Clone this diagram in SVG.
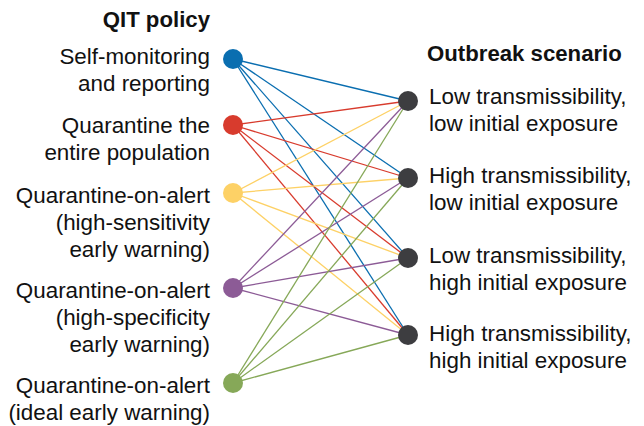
<svg xmlns="http://www.w3.org/2000/svg" width="644" height="426" viewBox="0 0 644 426">
  <style>
    text { font-family: "Liberation Sans", Arial, Helvetica, sans-serif; fill: #111; }
    .lbl { font-size: 22.4px; }
    .hdr { font-size: 22.2px; font-weight: bold; }
    .left { text-anchor: end; }
    .edge { stroke-width: 1.3; fill: none; }
    .b { stroke: #0a6eb0; } .r { stroke: #d83b2d; } .y { stroke: #fdd166; }
    .p { stroke: #8c5b96; } .g { stroke: #86a858; }
    .scen { fill: #3d3d40; }
  </style>
  <rect width="644" height="426" fill="#fff"/>

  <text class="hdr left" x="210" y="27">QIT policy</text>
  <text class="hdr" x="427" y="61">Outbreak scenario</text>

  <!-- connectors: each policy to each scenario -->
  <g id="connectors">
    <g class="edge b">
      <line x1="233" y1="59" x2="408" y2="101"/>
      <line x1="233" y1="59" x2="408" y2="178"/>
      <line x1="233" y1="59" x2="408" y2="258"/>
      <line x1="233" y1="59" x2="408" y2="335"/>
    </g>
    <g class="edge r">
      <line x1="233" y1="125" x2="408" y2="101"/>
      <line x1="233" y1="125" x2="408" y2="178"/>
      <line x1="233" y1="125" x2="408" y2="258"/>
      <line x1="233" y1="125" x2="408" y2="335"/>
    </g>
    <g class="edge y">
      <line x1="233" y1="193" x2="408" y2="101"/>
      <line x1="233" y1="193" x2="408" y2="178"/>
      <line x1="233" y1="193" x2="408" y2="258"/>
      <line x1="233" y1="193" x2="408" y2="335"/>
    </g>
    <g class="edge p">
      <line x1="233" y1="288" x2="408" y2="101"/>
      <line x1="233" y1="288" x2="408" y2="178"/>
      <line x1="233" y1="288" x2="408" y2="258"/>
      <line x1="233" y1="288" x2="408" y2="335"/>
    </g>
    <g class="edge g">
      <line x1="233" y1="383" x2="408" y2="101"/>
      <line x1="233" y1="383" x2="408" y2="178"/>
      <line x1="233" y1="383" x2="408" y2="258"/>
      <line x1="233" y1="383" x2="408" y2="335"/>
    </g>
  </g>

  <!-- policies -->
  <g id="policy-self-monitoring">
    <circle cx="233" cy="59" r="10" fill="#0a6eb0"/>
    <text class="lbl left" x="210" y="64">Self-monitoring</text>
    <text class="lbl left" x="210" y="91">and reporting</text>
  </g>
  <g id="policy-quarantine-all">
    <circle cx="233" cy="125" r="10" fill="#d83b2d"/>
    <text class="lbl left" x="210" y="133">Quarantine the</text>
    <text class="lbl left" x="210" y="160">entire population</text>
  </g>
  <g id="policy-high-sensitivity">
    <circle cx="233" cy="193" r="10" fill="#fdd166"/>
    <text class="lbl left" x="210" y="203">Quarantine-on-alert</text>
    <text class="lbl left" x="210" y="230">(high-sensitivity</text>
    <text class="lbl left" x="210" y="257">early warning)</text>
  </g>
  <g id="policy-high-specificity">
    <circle cx="233" cy="288" r="10" fill="#8c5b96"/>
    <text class="lbl left" x="210" y="298">Quarantine-on-alert</text>
    <text class="lbl left" x="210" y="325">(high-specificity</text>
    <text class="lbl left" x="210" y="352">early warning)</text>
  </g>
  <g id="policy-ideal">
    <circle cx="233" cy="383" r="10" fill="#86a858"/>
    <text class="lbl left" x="210" y="393">Quarantine-on-alert</text>
    <text class="lbl left" x="210" y="420">(ideal early warning)</text>
  </g>

  <!-- scenarios -->
  <g id="scenario-low-t-low-e">
    <circle class="scen" cx="408" cy="101" r="10"/>
    <text class="lbl" x="429" y="104">Low transmissibility,</text>
    <text class="lbl" x="429" y="131">low initial exposure</text>
  </g>
  <g id="scenario-high-t-low-e">
    <circle class="scen" cx="408" cy="178" r="10"/>
    <text class="lbl" x="429" y="183">High transmissibility,</text>
    <text class="lbl" x="429" y="210">low initial exposure</text>
  </g>
  <g id="scenario-low-t-high-e">
    <circle class="scen" cx="408" cy="258" r="10"/>
    <text class="lbl" x="429" y="263">Low transmissibility,</text>
    <text class="lbl" x="429" y="290">high initial exposure</text>
  </g>
  <g id="scenario-high-t-high-e">
    <circle class="scen" cx="408" cy="335" r="10"/>
    <text class="lbl" x="429" y="341">High transmissibility,</text>
    <text class="lbl" x="429" y="368">high initial exposure</text>
  </g>
</svg>
